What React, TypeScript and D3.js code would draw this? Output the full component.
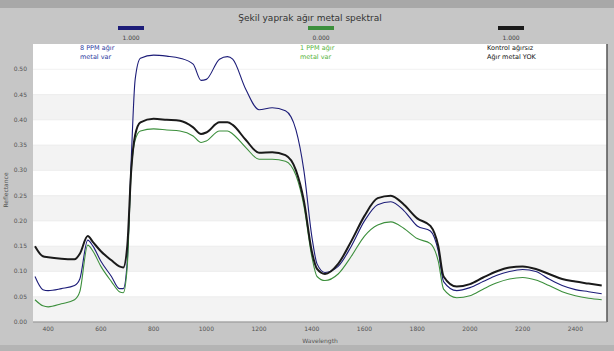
import React from "react";
import * as d3 from "d3";

const title = "Şekil yaprak ağır metal spektral";
const xTicks = [400, 600, 800, 1000, 1200, 1400, 1600, 1800, 2000, 2200, 2400];
const yTicks = [0, 0.05, 0.1, 0.15, 0.2, 0.25, 0.3, 0.35, 0.4, 0.45, 0.5];

const wavelengths = [350, 380, 400, 450, 500, 520, 550, 570, 600, 640, 670, 685, 700, 715, 730, 750, 800, 850, 900, 950, 980, 1000, 1050, 1080, 1100, 1150, 1200, 1250, 1300, 1340, 1370, 1400, 1420, 1450, 1500, 1550, 1600, 1650, 1700, 1750, 1800, 1850, 1880, 1900, 1950, 2000, 2050, 2100, 2150, 2200, 2250, 2300, 2350, 2400, 2450, 2500];

const ppm8 = [0.09, 0.064, 0.062, 0.066, 0.072, 0.085, 0.162, 0.15, 0.12, 0.09, 0.066, 0.066, 0.12, 0.32, 0.48, 0.522, 0.528, 0.526, 0.522, 0.51, 0.478, 0.48, 0.52, 0.525, 0.52, 0.46, 0.42, 0.424, 0.418, 0.38, 0.3, 0.17, 0.115, 0.098, 0.11, 0.15, 0.2, 0.232, 0.238, 0.22, 0.19, 0.18, 0.14, 0.08, 0.062, 0.068, 0.08, 0.092, 0.1, 0.104, 0.1, 0.085, 0.072, 0.064, 0.06, 0.056];

const control = [0.15, 0.13, 0.128, 0.125, 0.124, 0.135, 0.17, 0.158, 0.14, 0.122, 0.11, 0.108, 0.15, 0.3, 0.37, 0.395, 0.402, 0.4, 0.398, 0.385, 0.372, 0.375, 0.395, 0.395, 0.39, 0.36, 0.335, 0.336, 0.33, 0.3, 0.24, 0.14, 0.105, 0.095, 0.115, 0.16, 0.21, 0.245, 0.25, 0.232, 0.205, 0.19, 0.15, 0.09, 0.07, 0.075, 0.088, 0.1, 0.108, 0.11, 0.105, 0.095, 0.085, 0.08, 0.076, 0.072];

const ppm1 = [0.044, 0.032, 0.03, 0.036, 0.044, 0.06, 0.152, 0.14, 0.11, 0.08, 0.06, 0.058, 0.11, 0.3, 0.36, 0.378, 0.382, 0.38, 0.378, 0.368, 0.355, 0.358, 0.378, 0.378, 0.372, 0.345, 0.322, 0.322, 0.318, 0.29, 0.23, 0.13, 0.09, 0.082, 0.095, 0.13, 0.17, 0.192, 0.198, 0.185, 0.165, 0.155, 0.12, 0.065, 0.048, 0.052, 0.065, 0.077, 0.085, 0.088, 0.083, 0.072, 0.06, 0.052, 0.047, 0.044];

const seriesNames = ["8 PPM ağır|metal var", "1 PPM ağır|metal var", "Kontrol ağırsız|Ağır metal YOK"];
const seriesValues = ["1.000", "0.000", "1.000"];

const W = 614, H = 351;
const L = 33, R = 607, T = 44, B = 322;

export default function App() {
  const x = d3.scaleLinear().domain([350, 2520]).range([L + 2, R]);
  const y = d3.scaleLinear().domain([0, 0.55]).range([B, T]);
  const line = d3.line<number>().x((_, i) => x(wavelengths[i])).y((v) => y(v)).curve(d3.curveMonotoneX);
  const series = [
    { data: ppm8, color: "#1c1c78", text: "#2a3aa0", w: 1.1, lx: 80, sx: 118 },
    { data: ppm1, color: "#3c8f3c", text: "#55b33c", w: 1.1, lx: 300, sx: 308 },
    { data: control, color: "#1a1a1a", text: "#111", w: 2, lx: 487, sx: 498 },
  ];
  const bands = yTicks.slice(0, -1).map((t, i) => ({ t, i }));
  return (
    <svg width={W} height={H} style={{ position: "absolute", left: 0, top: 0, fontFamily: "DejaVu Sans, sans-serif" }}>
      <rect x={0} y={0} width={W} height={H} fill="#c6c6c6" />
      <rect x={0} y={0} width={W} height={8} fill="#a8a8a8" />
      <rect x={0} y={H - 6} width={W} height={6} fill="#b4b4b4" />
      <rect x={L} y={T} width={R - L} height={B - T} fill="#ffffff" />
      {bands.map(({ t, i }) =>
        i % 2 === 0 ? (
          <rect key={t} x={L} y={y(t + 0.05)} width={R - L} height={y(t) - y(t + 0.05)} fill="#f3f3f3" />
        ) : null
      )}
      {yTicks.map((t) => (
        <line key={t} x1={L} x2={R} y1={y(t)} y2={y(t)} stroke="#e6e6e6" strokeWidth={0.6} />
      ))}
      <line x1={R} x2={R} y1={T} y2={B} stroke="#555" strokeWidth={1.5} />
      <line x1={L} x2={R} y1={B} y2={B} stroke="#888" strokeWidth={1} />
      <text x={310} y={21} textAnchor="middle" fontSize={9} fill="#333">{title}</text>
      {series.map((s, i) => (
        <g key={i}>
          <rect x={s.sx} y={26} width={26} height={4} fill={s.color} />
          <text x={s.sx + 13} y={40} textAnchor="middle" fontSize={6} fill="#444">{seriesValues[i]}</text>
          {seriesNames[i].split("|").map((ln, j) => (
            <text key={j} x={s.lx} y={50 + j * 9} fontSize={6.5} fill={s.text}>{ln}</text>
          ))}
        </g>
      ))}
      {series.map((s, i) => (
        <path key={i} d={line(s.data) || ""} fill="none" stroke={s.color} strokeWidth={s.w} />
      ))}
      {yTicks.map((t) => (
        <text key={t} x={27} y={y(t) + 2} textAnchor="end" fontSize={6} fill="#555">{t.toFixed(2)}</text>
      ))}
      {xTicks.map((t) => (
        <text key={t} x={x(t)} y={331} textAnchor="middle" fontSize={6} fill="#555">{t}</text>
      ))}
      <text x={320} y={343} textAnchor="middle" fontSize={6} fill="#555">Wavelength</text>
      <text transform={`translate(8,${190}) rotate(-90)`} textAnchor="middle" fontSize={6} fill="#555">Reflectance</text>
    </svg>
  );
}
